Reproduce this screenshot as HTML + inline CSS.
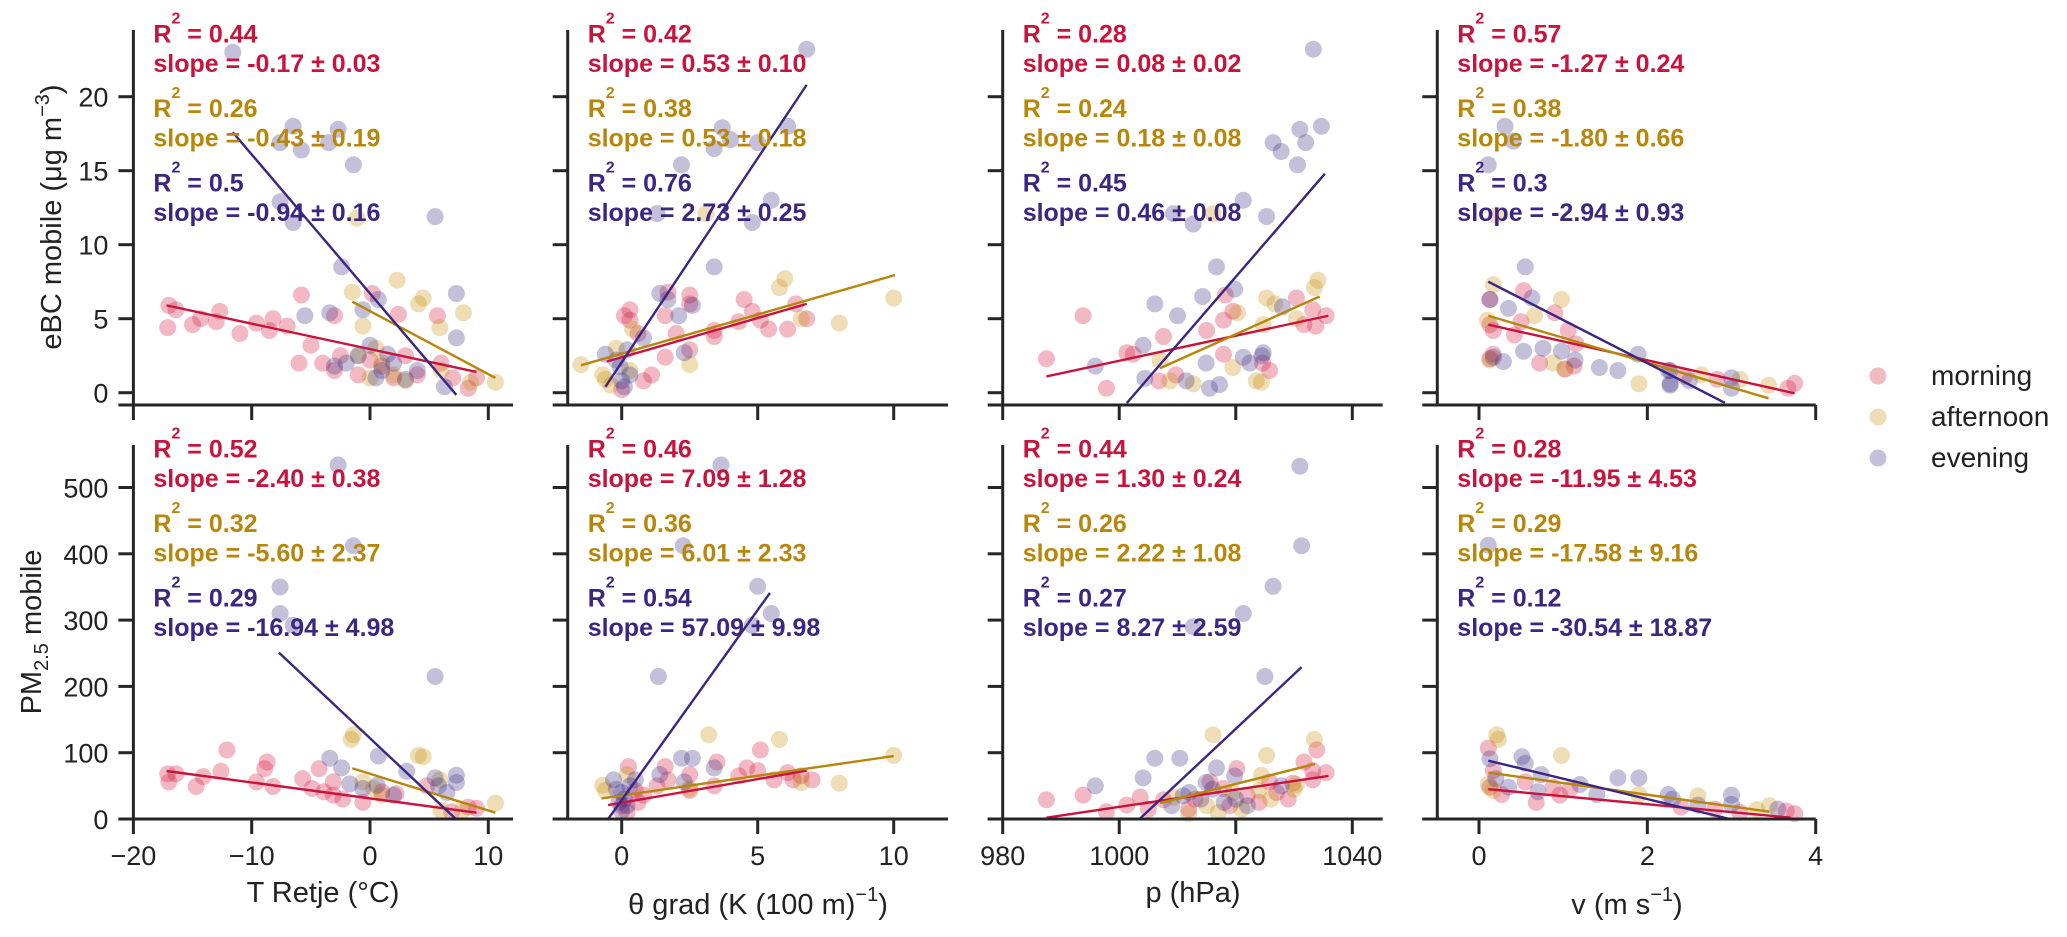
<!DOCTYPE html>
<html><head><meta charset="utf-8"><style>
html,body{margin:0;padding:0;background:#fff;}
svg{display:block;font-family:"Liberation Sans",Arial,sans-serif;}
</style></head><body>
<svg id="chart" xmlns="http://www.w3.org/2000/svg" width="2067" height="937" viewBox="0 0 2067 937"></svg>
<script>
// ---------- data: top row = eBC, bottom row = PM2.5 ----------
const seriesNames = ["morning","afternoon","evening"];
const xTicks1 = [-20,-10,0,10];
const xTicks2 = [0,5,10];
const xTicks3 = [980,1000,1020,1040];
const xTicks4 = [0,2,4];
const yTicksEbc = [0,5,10,15,20];
const yTicksPm = [0,100,200,300,400,500];

// T vs eBC
const tEbcMorning = [[-17,5.9],[-17.1,4.4],[-16.4,5.6],[-14.3,5.0],[-15,4.6],[-12.7,5.5],[-13,4.8],[-11,4.0],[-9.6,4.7],[-8.2,5.0],[-8.5,4.2],[-5.8,6.6],[-7,4.5],[-5,3.2],[-3,5.2],[-4,2.0],[-3,1.5],[-2.5,2.5],[-1,1.2],[0.2,6.7],[0,2.2],[1,1.8],[2,1.0],[2.4,5.3],[3,2.5],[4,1.2],[5.7,5.2],[6,2.0],[7,1.0],[8.3,0.3],[9,1.0],[-6,2.0]];
const tEbcAfternoon = [[-1.1,11.8],[2.3,7.6],[-1.5,6.8],[-0.6,4.5],[4.1,6.0],[4.5,6.4],[7.9,5.4],[5.9,4.4],[10.6,0.7],[8.5,0.7],[0,1.0],[1,2.0],[2,1.2],[3,0.8],[-1,2.5],[6,1.5],[0.5,3.0]];
const tEbcEvening = [[-11.6,23.0],[-6.5,18.0],[-7.6,16.9],[-5.8,16.4],[-2.7,17.8],[-3.5,16.9],[-1.4,15.4],[-7.6,12.9],[-6.5,11.5],[-2.4,8.5],[-5.5,5.2],[-3.4,5.4],[0.7,6.3],[-0.6,5.6],[5.5,11.9],[7.3,6.7],[7.3,3.7],[6.3,0.4],[-2,2.0],[-1,2.5],[0,3.2],[1,1.5],[2,2.0],[3,0.9],[4,1.5],[-3,1.8],[1.5,2.6],[0.5,1.0]];
// theta vs eBC
const thEbcMorning = [[0.3,5.6],[0.3,4.9],[1.7,6.8],[2.5,6.6],[2.5,6.0],[1.6,5.2],[4.5,6.3],[4.8,5.5],[4.3,4.8],[5.1,4.9],[5.4,4.3],[6.1,4.3],[6.4,6.0],[6.8,5.0],[3.4,4.2],[3.4,3.8],[2.0,4.0],[2.5,2.9],[1.6,2.4],[1.1,1.2],[0.8,0.8],[0,0.2],[0.1,5.2],[0.6,4.0]];
const thEbcAfternoon = [[-1.5,1.9],[6.0,7.7],[5.8,7.1],[8.0,4.7],[2.5,1.9],[0.4,4.3],[-0.7,1.2],[-0.2,3.0],[6.6,5.0],[3.1,12.1],[10.0,6.4],[-0.4,0.5],[0.3,1.5],[-0.6,0.9]];
const thEbcEvening = [[6.8,23.2],[3.7,17.9],[3.4,16.5],[4.0,17.1],[6.1,18.0],[5.0,16.9],[2.2,15.4],[5.5,13.0],[4.8,11.5],[1.3,12.1],[3.4,8.5],[1.4,6.7],[2.6,5.9],[2.1,5.2],[1.7,6.3],[0.8,3.7],[2.3,2.7],[-0.06,1.75],[-0.6,2.6],[0,0.8],[0.1,0.4],[-0.2,2.2],[0.3,1.2],[0.2,2.9]];
// p vs eBC
const pEbcMorning = [[993.8,5.2],[987.5,2.3],[997.8,0.3],[1001.3,2.7],[1007.6,3.8],[1015.0,4.2],[1017.9,4.9],[1018.2,6.6],[1019.5,5.5],[1009.7,1.2],[1006.8,0.8],[1017.9,2.6],[1002.4,2.6],[1030.4,6.4],[1033.2,5.6],[1035.5,5.2],[1031.7,4.6],[1033.7,4.5],[1025.8,1.5],[1024.6,2.0]];
const pEbcAfternoon = [[1016.1,12.1],[1020.3,5.4],[1007,2.2],[1008.7,0.8],[1012.7,0.6],[1019.5,1.7],[1023.5,0.8],[1034.1,7.6],[1033.5,7.1],[1025.3,6.4],[1026.7,6.0],[1030.4,5.0],[1024.7,4.6],[1024.4,0.7]];
const pEbcEvening = [[1021.3,13.0],[1009.3,12.1],[1012.7,11.4],[1016.7,8.5],[1006.1,6.0],[1014.3,6.5],[1019.8,7.0],[1010,5.2],[1004.1,3.2],[995.9,1.8],[1004.4,0.97],[1014.9,2.0],[1021.3,2.4],[1015.5,0.3],[1017.2,0.55],[1011.5,0.8],[1022.4,2.0],[1024.7,2.7],[1033.3,23.2],[1031,17.8],[1034.7,18.0],[1032,16.9],[1026.4,16.9],[1027.8,16.3],[1030.6,15.4],[1025.3,11.9],[1024.5,2.5],[1028,5.8]];
// v vs eBC
const vEbcMorning = [[0.53,6.9],[0.13,6.3],[0.13,4.6],[0.17,4.2],[0.50,4.8],[0.9,5.4],[0.42,3.9],[1.06,4.2],[1.15,3.3],[0.72,2.0],[1.02,1.6],[0.17,2.6],[0.13,2.3],[1.13,1.8],[3.75,0.63],[3.67,0.3],[2.83,0.9],[2.44,1.1]];
const vEbcAfternoon = [[0.21,12.0],[0.17,7.3],[0.98,6.3],[0.66,5.2],[0.1,4.9],[0.88,2.0],[0.13,2.2],[1.9,0.6],[1.02,1.6],[3.44,0.5],[2.64,1.2],[3.1,0.9]];
const vEbcEvening = [[0.31,18.0],[0.41,17.0],[0.11,15.4],[0.55,8.5],[0.63,6.4],[0.35,5.7],[0.13,6.3],[0.53,2.8],[0.76,3.0],[0.98,2.8],[1.14,2.2],[1.43,1.7],[1.65,1.5],[1.89,2.6],[2.25,1.5],[2.27,0.6],[0.17,2.4],[0.29,2.1],[2.27,0.5],[2.27,1.5],[2.5,0.8],[3.0,1.0],[3.0,0.3]];
// T vs PM
const tPmMorning = [[-17,56],[-17.1,68],[-16.4,68],[-14.7,49],[-14.1,64],[-12.6,72],[-12.1,104],[-9.6,56],[-8.9,76],[-8.7,86],[-8.2,49],[-5.7,61],[-4.3,76],[-4.9,46],[-3.9,41],[-3.1,56],[-2.3,30],[-0.6,25],[1.0,41],[2.2,38],[-3.1,36],[4.8,50],[9.0,16],[8.3,18],[6.9,11]];
const tPmAfternoon = [[-1.4,127],[-1.6,120],[-0.6,56],[0.3,46],[1.0,36],[4.1,96],[4.5,94],[5.9,59],[10.6,24],[7.8,13],[6.0,13]];
const tPmEvening = [[-2.7,534],[-1.4,412],[-7.6,350],[-7.6,310],[-6.5,292],[-3.4,91.5],[-2.4,77],[0.7,95],[-1.7,53],[-0.6,46],[2.0,36],[3.1,72],[0.6,51],[5.5,215],[7.3,66],[7.3,55],[6.5,40],[5.5,62],[5.8,50]];
// theta vs PM
const thPmMorning = [[0.25,79],[5.1,104],[3.5,86],[3.4,50],[4.3,65],[4.6,77],[5.0,73],[5.6,59],[6.1,70],[6.6,65],[7.0,59],[6.3,59],[2.5,67],[1.7,59],[1.3,50],[0.8,36],[0.5,43],[1.6,79],[2.5,43],[0.2,10],[0,20],[0.6,25]];
const thPmAfternoon = [[3.2,127],[5.8,120],[6.6,55],[8.0,54],[2.5,46],[-0.7,51],[-0.6,43],[0.2,67],[10.0,96]];
const thPmEvening = [[3.65,534],[2.26,412],[5.0,351],[5.5,310],[4.8,292],[1.35,215],[2.2,91.5],[2.6,91.5],[3.4,77],[1.4,67],[2.3,56],[0.5,59],[-0.3,59],[0,40],[0.1,30],[-0.2,45],[0.2,20],[-0.1,25],[0.3,50],[0,12]];
// p vs PM
const pPmMorning = [[987.5,29],[993.8,36],[997.8,11],[1001.3,21],[1003.6,33],[1007.6,29],[1015.6,56],[1020.2,76],[1017.9,46],[1011.9,15],[1033.9,104],[1031.7,86],[1033.2,73],[1035.5,70],[1033.2,59],[1029.8,54],[1025.8,56],[1013,30],[1019,20],[1022,35],[1024,25],[1027,40],[1029,30],[1005,15]];
const pPmAfternoon = [[1016.1,127],[1009.3,33],[1011.9,8],[1019.5,40],[1033.5,120],[1025.3,96],[1030.4,52],[1024.4,66],[1024,43],[1015,20],[1021,15],[1026,30],[1030,45],[1017,10]];
const pPmEvening = [[1021.3,310],[1012.7,290],[1006.1,91.5],[1010.4,91.5],[1004.1,62],[995.9,50],[1016.7,77],[1019.8,65],[1014.9,55],[1031,532],[1031.3,412],[1026.4,351],[1025,215],[1027.8,50],[1012,40],[1014,30],[1016,45],[1018,25],[1011,35],[1020,30],[1022,20],[1009,20]];
// v vs PM
const vPmMorning = [[0.11,107],[0.17,73],[0.13,48],[0.27,37],[0.68,25],[0.88,48],[1.08,45],[0.55,56],[0.96,36],[3.65,12],[3.75,8],[2.8,15],[3.1,10],[2.4,18]];
const vPmAfternoon = [[0.21,127],[0.23,120],[0.98,96],[0.11,52],[0.17,43],[1.9,37],[2.6,35],[3.45,20],[3.3,14]];
const vPmEvening = [[0.11,413],[0.55,84],[0.51,94],[0.13,91],[0.74,67],[1.2,52],[1.65,62],[1.9,62],[1.4,37],[0.2,61],[0.35,48],[0.7,41],[2.25,37],[2.6,21],[3.0,36],[3.0,22],[3.55,15],[2.3,30]];

// regression line endpoints [x0,y0,x1,y1] per series (morning, afternoon, evening)
const fitTEbc = [[-17.2,5.9,9.0,1.4],[-1.5,6.15,10.6,1.0],[-11.6,17.6,7.3,-0.15]];
const fitThEbc = [[-0.55,2.1,6.8,6.0],[-1.5,1.85,10.05,7.95],[-0.6,0.4,6.8,20.8]];
const fitPEbc = [[987.5,1.1,1035.9,5.2],[1007,1.65,1034.4,6.5],[1001.3,-0.7,1035.3,14.8]];
const fitVEbc = [[0.11,4.6,3.75,-0.04],[0.11,5.2,3.44,-0.38],[0.11,7.5,2.92,-0.68]];
const fitTPm = [[-17.2,72.4,9.0,9.5],[-1.5,76.5,10.6,9.5],[-7.7,251,7.2,1]];
const fitThPm = [[-0.5,21,6.8,73],[-0.74,31,10.0,95],[-0.5,0,5.45,341]];
const fitPPm = [[987.5,2,1035.9,65],[1007,24,1033.6,83],[1003.6,1,1031.3,229]];
const fitVPm = [[0.11,45,3.7,2],[0.11,70,3.45,11],[0.11,88,2.98,0]];

// annotation strings
const statsR2 = [["0.44","0.26","0.5"],["0.42","0.38","0.76"],["0.28","0.24","0.45"],["0.57","0.38","0.3"],
                 ["0.52","0.32","0.29"],["0.46","0.36","0.54"],["0.44","0.26","0.27"],["0.28","0.29","0.12"]];
const statsSlope = [["-0.17 ± 0.03","-0.43 ± 0.19","-0.94 ± 0.16"],["0.53 ± 0.10","0.53 ± 0.18","2.73 ± 0.25"],["0.08 ± 0.02","0.18 ± 0.08","0.46 ± 0.08"],["-1.27 ± 0.24","-1.80 ± 0.66","-2.94 ± 0.93"],
                    ["-2.40 ± 0.38","-5.60 ± 2.37","-16.94 ± 4.98"],["7.09 ± 1.28","6.01 ± 2.33","57.09 ± 9.98"],["1.30 ± 0.24","2.22 ± 1.08","8.27 ± 2.59"],["-11.95 ± 4.53","-17.58 ± 9.16","-30.54 ± 18.87"]];

// ---------- layout ----------
const NS = "http://www.w3.org/2000/svg";
const svg = document.getElementById("chart");
const textCol = ["#c8143c","#b8860b","#3b2683"];
const dotCol = ["#d4173f","#c8900a","#3b2d83"];
const cols = [
  {d:[-20,10], r:[133.4,488.3], spine:133.4, end:513, ticks:xTicks1},
  {d:[0,10], r:[621.7,893.7], spine:567.7, end:948, ticks:xTicks2},
  {d:[980,1040], r:[1002.7,1352.3], spine:1002.7, end:1382.7, ticks:xTicks3},
  {d:[0,4], r:[1479,1815.7], spine:1437.3, end:1815.7, ticks:xTicks4}
];
const rows = [
  {d:[0,20], r:[392.7,96.7], top:30, axis:405, ticks:yTicksEbc},
  {d:[0,500], r:[819,487.5], top:445, axis:819, ticks:yTicksPm}
];
function sx(c,v){const k=cols[c];return k.r[0]+(v-k.d[0])*(k.r[1]-k.r[0])/(k.d[1]-k.d[0]);}
function sy(r,v){const k=rows[r];return k.r[0]+(v-k.d[0])*(k.r[1]-k.r[0])/(k.d[1]-k.d[0]);}
function mk(tag,attrs,parent){const e=document.createElementNS(NS,tag);for(const a in attrs)e.setAttribute(a,attrs[a]);(parent||svg).appendChild(e);return e;}
function fmt(v){return v<0?"\u2212"+Math.abs(v):String(v);}

const panelPoints = [
  [tEbcMorning,tEbcAfternoon,tEbcEvening],[thEbcMorning,thEbcAfternoon,thEbcEvening],[pEbcMorning,pEbcAfternoon,pEbcEvening],[vEbcMorning,vEbcAfternoon,vEbcEvening],
  [tPmMorning,tPmAfternoon,tPmEvening],[thPmMorning,thPmAfternoon,thPmEvening],[pPmMorning,pPmAfternoon,pPmEvening],[vPmMorning,vPmAfternoon,vPmEvening]
];
const panelFits = [fitTEbc,fitThEbc,fitPEbc,fitVEbc,fitTPm,fitThPm,fitPPm,fitVPm];
const axisColor = "#262626";

for(let r=0;r<2;r++){
  for(let c=0;c<4;c++){
    const p = r*4+c;
    const g = mk("g",{});
    
    
    const R=rows[r], C=cols[c];
    // points
    for(let s=0;s<3;s++){
      for(const pt of panelPoints[p][s]){
        const dot = mk("circle",{cx:sx(c,pt[0]).toFixed(1),cy:sy(r,pt[1]).toFixed(1),r:8.5,fill:dotCol[s],"fill-opacity":0.3},g);
        
        
      }
    }
    // fits
    for(let s=0;s<3;s++){
      const f=panelFits[p][s];
      const ln = mk("line",{x1:sx(c,f[0]),y1:sy(r,f[1]),x2:sx(c,f[2]),y2:sy(r,f[3]),stroke:textCol[s],"stroke-width":2.4},g);
      
      
    }
    // spines
    const ys = mk("line",{x1:C.spine,y1:R.top,x2:C.spine,y2:R.axis,stroke:axisColor,"stroke-width":3},g);
    
    
    const xs = mk("line",{x1:C.spine-15,y1:R.axis,x2:C.end,y2:R.axis,stroke:axisColor,"stroke-width":3},g);
    
    
    // y ticks
    for(const t of R.ticks){
      const y=sy(r,t);
      const tk = mk("line",{x1:C.spine-15,y1:y,x2:C.spine,y2:y,stroke:axisColor,"stroke-width":3},g);
      
      
      if(c===0){
        const tl = mk("text",{x:C.spine-25,y:y+10,"text-anchor":"end","font-size":27,fill:"#222"},g);
        tl.textContent=fmt(t);
        
        
      }
    }
    // x ticks
    for(const t of C.ticks){
      const x=sx(c,t);
      const tk = mk("line",{x1:x,y1:R.axis,x2:x,y2:R.axis+15,stroke:axisColor,"stroke-width":3},g);
      
      
      if(r===1){
        const tl = mk("text",{x:x,y:865,"text-anchor":"middle","font-size":27,fill:"#222"},g);
        tl.textContent=fmt(t);
        
        
      }
    }
    // annotations
    const tx = C.spine+20, base = r===0?42.7:457.3;
    for(let s=0;s<3;s++){
      const y0 = base + s*74.5;
      const t1 = mk("text",{x:tx,y:y0,"font-size":25,"font-weight":"bold",fill:textCol[s]},g);
      
      
      t1.appendChild(document.createTextNode("R"));
      const sup = mk("tspan",{dy:-19,"font-size":16},t1); sup.textContent="2";
      const rest = mk("tspan",{dy:19},t1); rest.textContent=" = "+statsR2[p][s];
      const t2 = mk("text",{x:tx,y:y0+29.5,"font-size":25,"font-weight":"bold",fill:textCol[s]},g);
      t2.textContent="slope = "+statsSlope[p][s];
      
      
    }
  }
}
</script>
<!-- axis titles -->
<svg style="position:absolute;left:0;top:0" width="2067" height="937" xmlns="http://www.w3.org/2000/svg">
  <g font-family="Liberation Sans, Arial, sans-serif" fill="#222" font-size="29">
    <text transform="translate(61,217) rotate(-90)" text-anchor="middle">eBC mobile (μg m<tspan dy="-12" font-size="20">−3</tspan><tspan dy="12">)</tspan></text>
    <text transform="translate(41,632) rotate(-90)" text-anchor="middle">PM<tspan dy="7" font-size="20">2.5</tspan><tspan dy="-7"> mobile</tspan></text>
    <text x="323" y="902" text-anchor="middle">T Retje (°C)</text>
    <text x="758" y="914" text-anchor="middle">θ grad (K (100 m)<tspan dy="-13" font-size="20">−1</tspan><tspan dy="13">)</tspan></text>
    <text x="1193" y="902" text-anchor="middle">p (hPa)</text>
    <text x="1627" y="914" text-anchor="middle">v (m s<tspan dy="-13" font-size="20">−1</tspan><tspan dy="13">)</tspan></text>
  </g>
  <g font-family="Liberation Sans, Arial, sans-serif" font-size="28" fill="#222">
    <g><circle cx="1878" cy="376" r="8.5" fill="#d4173f" fill-opacity="0.3"/><text x="1931" y="385">morning</text></g>
    <g><circle cx="1878" cy="417" r="8.5" fill="#c8900a" fill-opacity="0.3"/><text x="1931" y="426">afternoon</text></g>
    <g><circle cx="1878" cy="458" r="8.5" fill="#3b2d83" fill-opacity="0.3"/><text x="1931" y="467">evening</text></g>
  </g>
</svg>
</body></html>
